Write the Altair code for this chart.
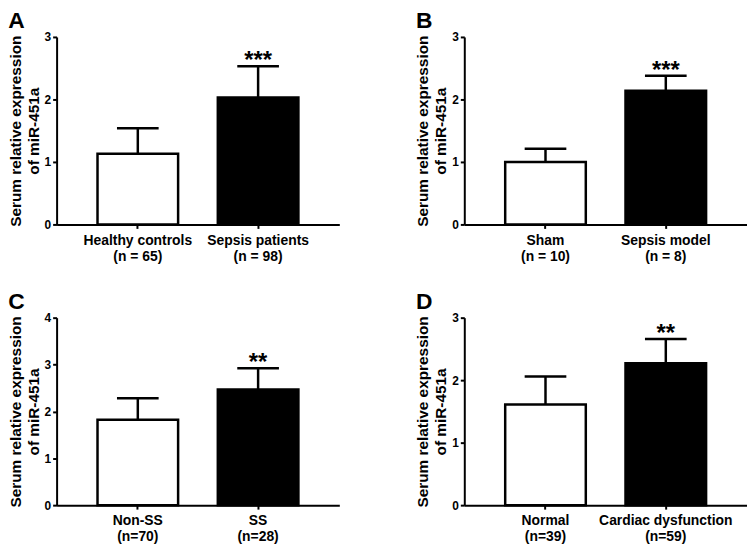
import altair as alt
import pandas as pd

FONT = "Liberation Sans"

# ---- data ----
letters = ["A", "B", "C", "D"]

groups_A = ["Healthy controls|(n = 65)", "Sepsis patients|(n = 98)"]
means_A = [1.13, 2.03]
errs_A = [0.41, 0.50]
stars_A = ["", "***"]
ymax_A = 3

groups_B = ["Sham|(n = 10)", "Sepsis model|(n = 8)"]
means_B = [1.00, 2.14]
errs_B = [0.21, 0.24]
stars_B = ["", "***"]
ymax_B = 3

groups_C = ["Non-SS|(n=70)", "SS|(n=28)"]
means_C = [1.82, 2.47]
errs_C = [0.46, 0.45]
stars_C = ["", "**"]
ymax_C = 4

groups_D = ["Normal|(n=39)", "Cardiac dysfunction|(n=59)"]
means_D = [1.61, 2.27]
errs_D = [0.45, 0.39]
stars_D = ["", "**"]
ymax_D = 3

fills = ["white", "black"]
ytitle = ["Serum relative expression", "of miR-451a"]

W, H = 285, 189


def panel(letter, groups, means, errs, stars, ymax):
    df = pd.DataFrame({
        "group": groups,
        "mean": means,
        "top": [m + e for m, e in zip(means, errs)],
        "stars": stars,
        "fill": fills,
    })
    xscale = alt.Scale(paddingInner=0.33, paddingOuter=0.34)
    xaxis = alt.Axis(labelAngle=0, labelExpr="split(datum.label, '|')", title=None)
    yscale = alt.Scale(domain=[0, ymax], nice=False)
    yaxis = alt.Axis(values=list(range(ymax + 1)), format="d", title=ytitle)

    def X():
        return alt.X("group:N", sort=groups, scale=xscale, axis=xaxis, title=None)

    base = alt.Chart(df)
    bars = base.mark_bar(stroke="black", strokeWidth=2.5).encode(
        x=X(),
        y=alt.Y("mean:Q", scale=yscale, axis=yaxis, title=ytitle),
        fill=alt.Fill("fill:N", scale=None),
    )
    rule = base.mark_rule(color="black", strokeWidth=2.5).encode(
        x=X(),
        y=alt.Y("mean:Q", scale=yscale, axis=yaxis, title=ytitle),
        y2="top:Q",
    )
    cap = base.mark_tick(color="black", size=42, thickness=2.5, opacity=1).encode(
        x=X(),
        y=alt.Y("top:Q", scale=yscale, axis=yaxis, title=ytitle),
    )
    txt = base.mark_text(font=FONT, fontSize=24, fontWeight="bold", color="black",
                         baseline="alphabetic", dy=2).encode(
        x=X(),
        y=alt.Y("top:Q", scale=yscale, axis=yaxis, title=ytitle),
        text="stars:N",
    )
    return alt.layer(bars, rule, cap, txt, title=alt.Title(letter)).properties(width=W, height=H)


pA = panel("A", groups_A, means_A, errs_A, stars_A, ymax_A)
pB = panel("B", groups_B, means_B, errs_B, stars_B, ymax_B)
pC = panel("C", groups_C, means_C, errs_C, stars_C, ymax_C)
pD = panel("D", groups_D, means_D, errs_D, stars_D, ymax_D)

chart = alt.vconcat(
    alt.hconcat(pA, pB, spacing=77),
    alt.hconcat(pC, pD, spacing=77),
    spacing=28,
).properties(padding=0, background="white").configure_view(stroke=None).configure_axis(
    grid=False,
    domainColor="black", domainWidth=2,
    tickColor="black", tickWidth=2, tickSize=4,
    labelColor="black", labelFont=FONT, labelFontWeight="bold", labelFontSize=12,
    labelPadding=2,
    titleColor="black", titleFont=FONT, titleFontWeight="bold", titleFontSize=15.5,
    titleLineHeight=18, titlePadding=3,
).configure_axisX(
    labelFontSize=14, labelLineHeight=16, labelPadding=5,
).configure_title(
    font=FONT, fontSize=23, fontWeight="bold", anchor="start", frame="bounds",
    offset=-2, color="black",
)

chart.save("out.html", embed_options={"renderer": "svg", "actions": False})
